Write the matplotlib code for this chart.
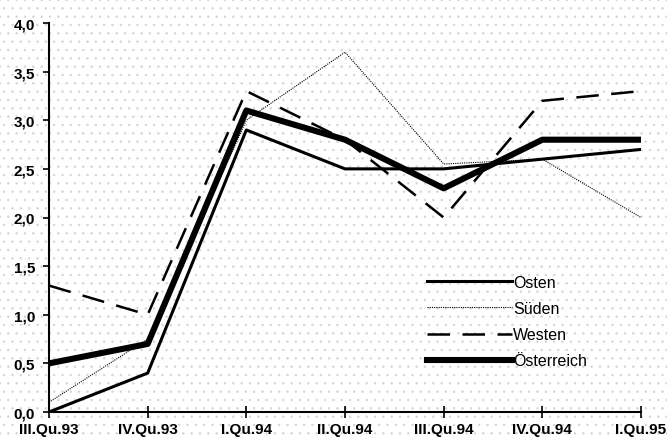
import matplotlib
matplotlib.use("Agg")
import matplotlib.pyplot as plt
from matplotlib.patches import Rectangle

categories = ["III.Qu.93", "IV.Qu.93", "I.Qu.94", "II.Qu.94", "III.Qu.94", "IV.Qu.94", "I.Qu.95"]
osten = [0.0, 0.4, 2.9, 2.5, 2.5, 2.6, 2.7]
sueden = [0.1, 0.75, 3.0, 3.7, 2.55, 2.6, 2.0]
westen = [1.3, 1.0, 3.3, 2.8, 2.0, 3.2, 3.3]
oesterreich = [0.5, 0.7, 3.1, 2.8, 2.3, 2.8, 2.8]
yticks = [0.0, 0.5, 1.0, 1.5, 2.0, 2.5, 3.0, 3.5, 4.0]

plt.rcParams['font.family'] = ['Liberation Sans', 'DejaVu Sans']
plt.rcParams['hatch.linewidth'] = 0.5

fig = plt.figure(figsize=(6.67, 4.39), dpi=100)
fig.patches.append(Rectangle((0, 0), 1, 1, transform=fig.transFigure, facecolor='white',
                             edgecolor='#d4d4d4', hatch='..', linewidth=0, zorder=-10))
ax = fig.add_axes([49/667, 26/439, 592/667, 389/439])
ax.patch.set_alpha(0)

x = list(range(len(categories)))
ax.plot(x, osten, color='black', lw=2.2, label='Osten')
ax.plot(x, sueden, color='black', lw=0.8, ls=(0, (1, 1)), label='Süden')
ax.plot(x, westen, color='black', lw=1.8, ls=(0, (9, 5)), label='Westen')
ax.plot(x, oesterreich, color='black', lw=4.4, label='Österreich')

ax.set_xlim(0, 6)
ax.set_ylim(0, 4)
ax.set_xticks(x)
ax.set_xticklabels(categories, fontsize=11, fontweight='bold')
ax.set_yticks(yticks)
ax.set_yticklabels([f"{v:.1f}".replace('.', ',') for v in yticks], fontsize=11, fontweight='bold')
ax.tick_params(axis='x', direction='inout', length=8, width=1.2, pad=3)
ax.tick_params(axis='y', direction='out', length=4, width=1.2, pad=6)
for s in ['top', 'right']:
    ax.spines[s].set_visible(False)
for s in ['left', 'bottom']:
    ax.spines[s].set_linewidth(1.5)

leg = ax.legend(loc='lower left', bbox_to_anchor=(0.615, 0.075), frameon=False,
                handlelength=5.3, handletextpad=0.05, labelspacing=0.7, fontsize=11.5)

fig.savefig("out.png", dpi=100)
